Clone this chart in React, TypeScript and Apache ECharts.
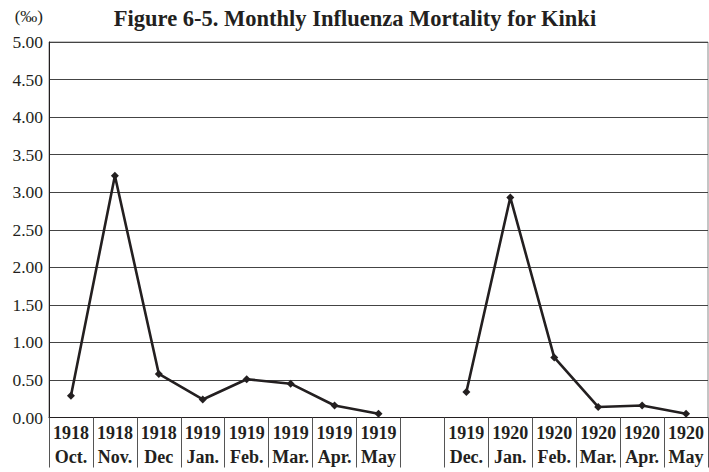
import React, { useEffect, useRef } from "react";
import * as echarts from "echarts";

const years = ["1918", "1918", "1918", "1919", "1919", "1919", "1919", "1919", "", "1919", "1920", "1920", "1920", "1920", "1920"];
const months = ["Oct.", "Nov.", "Dec", "Jan.", "Feb.", "Mar.", "Apr.", "May", "", "Dec.", "Jan.", "Feb.", "Mar.", "Apr.", "May"];
const mortality: (number | null)[] = [0.29, 3.22, 0.58, 0.24, 0.51, 0.45, 0.16, 0.05, null, 0.34, 2.93, 0.80, 0.14, 0.16, 0.05];
const yTicks = [0, 0.5, 1, 1.5, 2, 2.5, 3, 3.5, 4, 4.5, 5];

const serif = "'Liberation Serif', 'DejaVu Serif', serif";
const ink = "#231f20";

export default function App() {
  const ref = useRef<HTMLDivElement>(null);
  useEffect(() => {
    if (!ref.current) return;
    const chart = echarts.init(ref.current, null, { renderer: "svg" });
    const categories = years.map((y, i) => (y ? `${y}\n${months[i]}` : ""));
    chart.setOption({
      animation: false,
      backgroundColor: "#ffffff",
      title: {
        text: "Figure 6-5. Monthly Influenza Mortality for Kinki",
        left: 350,
        top: 2,
        textAlign: "center",
        textStyle: { fontFamily: serif, fontWeight: "bold", fontSize: 22.5, color: ink },
      },
      grid: {
        left: 49,
        right: 1,
        top: 42,
        bottom: 54.5,
        show: true,
        borderColor: "#8a8a8a",
        borderWidth: 1,
      },
      xAxis: {
        type: "category",
        data: categories,
        boundaryGap: true,
        axisLine: { show: true, lineStyle: { color: ink, width: 1 } },
        axisTick: {
          show: true,
          alignWithLabel: false,
          interval: 0,
          length: 50,
          lineStyle: { color: "#555", width: 1 },
        },
        axisLabel: {
          interval: 0,
          margin: 3,
          fontFamily: serif,
          fontWeight: "bold",
          fontSize: 18,
          lineHeight: 24,
          color: ink,
        },
        splitLine: { show: false },
      },
      yAxis: {
        type: "value",
        min: yTicks[0],
        max: yTicks[yTicks.length - 1],
        interval: 0.5,
        name: "(‰)",
        nameLocation: "end",
        nameGap: 17,
        nameTextStyle: { fontFamily: serif, fontSize: 17, color: ink, align: "right", padding: [0, 6, 0, 0] },
        axisLine: { show: true, lineStyle: { color: ink, width: 1 } },
        axisTick: { show: false },
        axisLabel: {
          fontFamily: serif,
          fontSize: 17.5,
          color: ink,
          margin: 6,
          formatter: (v: number) => v.toFixed(2),
        },
        splitLine: { show: true, lineStyle: { color: "#444", width: 1 } },
      },
      series: [
        {
          type: "line",
          data: mortality,
          connectNulls: false,
          symbol: "diamond",
          symbolSize: 8,
          itemStyle: { color: ink },
          lineStyle: { color: ink, width: 2.6 },
        },
      ],
    });
    return () => chart.dispose();
  }, []);
  return (
    <div
      ref={ref}
      style={{ position: "fixed", left: 0, top: 0, width: 709, height: 472, background: "#fff" }}
    />
  );
}
